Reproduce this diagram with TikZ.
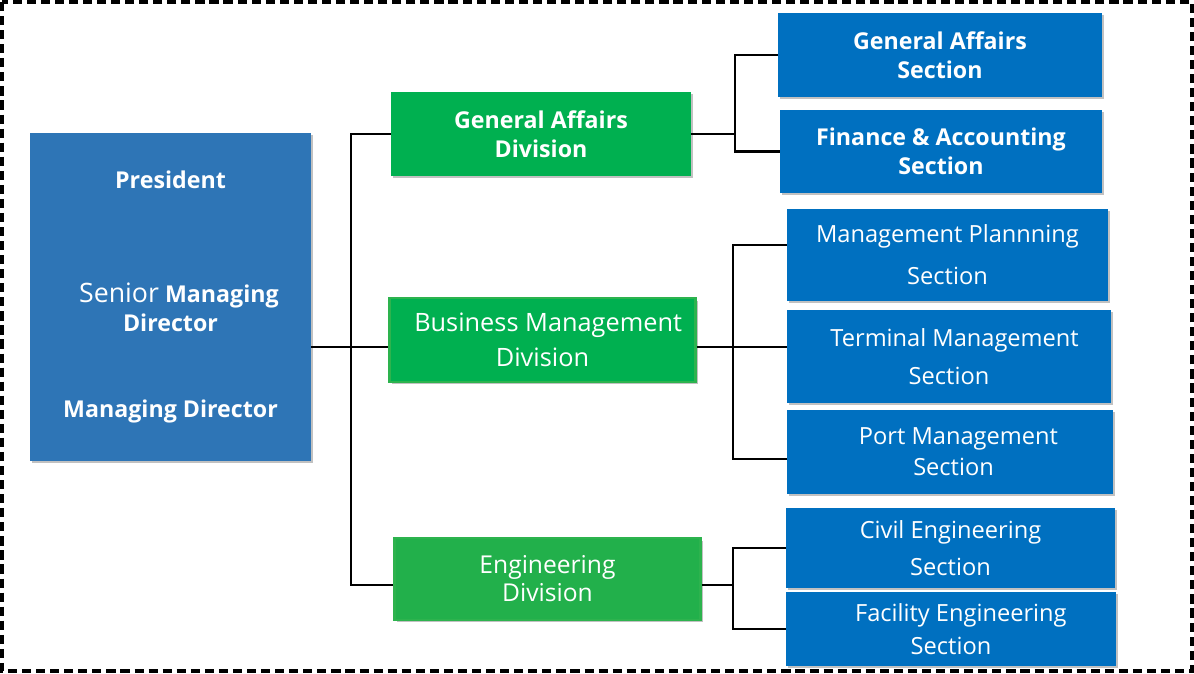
\documentclass[tikz,border=0pt]{standalone}
\usepackage{fontspec}
\setmainfont{Open Sans}
\usepackage{tikz}
\usetikzlibrary{positioning, shadows}

\definecolor{chiefblue}{HTML}{2E75B6}
\definecolor{sectblue}{HTML}{0070C0}
\definecolor{divgreen}{HTML}{00B050}
\definecolor{enggreen}{HTML}{22B04B}
\definecolor{divedge}{HTML}{2DB34E}

\begin{document}
\begin{tikzpicture}[
    x=0.025cm, y=-0.025cm,
    box/.style={
        rectangle,
        inner sep=2pt,
        align=center,
        text=white,
        drop shadow={shadow xshift=1.6pt, shadow yshift=-1.6pt, opacity=0.35, fill=black!70}
    },
    chief/.style={
        box,
        fill=chiefblue,
        font=\fontsize{16.5}{21}\selectfont\bfseries
    },
    division/.style={
        box,
        fill=divgreen,
        font=\fontsize{17.5}{21}\selectfont
    },
    section/.style={
        box,
        fill=sectblue,
        font=\fontsize{16.8}{21}\selectfont
    },
    link/.style={
        draw,
        line width=1.7pt,
        black
    }
]

    % outer frame
    \useasboundingbox (0,0) rectangle (1194,673);
    \draw [line width=2.8pt, dash pattern=on 6.5pt off 3.5pt] (2,2) rectangle (1192,671);

    % top management
    \node [chief, minimum width=7.025cm, minimum height=8.2cm] (pres) at (170.5,297) {
        President\\[60pt]
        \hspace*{12pt}{\mdseries\fontsize{19}{21}\selectfont Senior} Managing\\
        Director\\[40pt]
        Managing Director
    };

    % divisions
    \node [division, font=\fontsize{16.5}{21}\selectfont\bfseries, minimum width=7.5cm, minimum height=2.1cm] (gad) at (541,134) {
        General Affairs\\ Division
    };
    \node [division, font=\fontsize{18}{21}\selectfont, draw=divedge, line width=1.5pt, minimum width=7.65cm, minimum height=2.08cm] (bmd) at (542.5,340) {
        \hspace*{8pt}Business Management\\[4pt] Division
    };
    \node [division, fill=enggreen, draw=divedge, line width=1.5pt, minimum width=7.65cm, minimum height=2.03cm] (engd) at (547.5,579) {
        Engineering\\[-1pt] Division
    };

    % sections
    \node [section, font=\fontsize{16.5}{21}\selectfont\bfseries, minimum width=8.1cm, minimum height=2.1cm] (gas) at (940,55) {
        General Affairs\\ Section
    };
    \node [section, font=\fontsize{16.5}{21}\selectfont\bfseries, minimum width=8.05cm, minimum height=2.075cm] (fas) at (941,151.5) {
        Finance \& Accounting\\ Section
    };
    \node [section, minimum width=8.025cm, minimum height=2.3cm] (mps) at (947.5,255) {
        Management Plannning\\[9pt] Section
    };
    \node [section, minimum width=8.1cm, minimum height=2.325cm] (tms) at (949,356.5) {
        \hspace*{8pt}Terminal Management\\[6pt] Section
    };
    \node [section, minimum width=8.15cm, minimum height=2.1cm] (pms) at (950,452) {
        \hspace*{12pt}Port Management\\[1pt] \hspace*{5pt}Section
    };
    \node [section, minimum width=8.225cm, minimum height=2.0cm] (ces) at (950.5,548) {
        Civil Engineering\\[5pt] Section
    };
    \node [section, minimum width=8.25cm, minimum height=1.85cm] (fes) at (951,629) {
        \hspace*{14pt}Facility Engineering\\[2pt] Section
    };

    % junction points
    \coordinate (trunk) at (351,347);
    \coordinate (gabus) at (735,132);
    \coordinate (bmbus) at (733,347);
    \coordinate (engbus) at (733,585);
    \coordinate (mpsin) at ([yshift=0.25cm]mps.west);
    \coordinate (pmsin) at ([yshift=-0.175cm]pms.west);

    % president to divisions
    \draw [link] (pres.east |- trunk) -- (bmd.west |- trunk);
    \draw [link] (gad.west) -| (trunk |- engbus) -- (engd.west |- engbus);

    % general affairs division
    \draw [link] (gad.east) -- (gad.east -| gabus);
    \draw [link] (gas.west) -| (gabus |- fas.west) -- (fas.west);

    % business management division
    \draw [link] (bmd.east |- bmbus) -- (tms.west |- bmbus);
    \draw [link] (mpsin) -| (bmbus |- pmsin) -- (pmsin);

    % engineering division
    \draw [link] (engd.east |- engbus) -- (engbus);
    \draw [link] (ces.west) -| (engbus |- fes.west) -- (fes.west);

\end{tikzpicture}
\end{document}
